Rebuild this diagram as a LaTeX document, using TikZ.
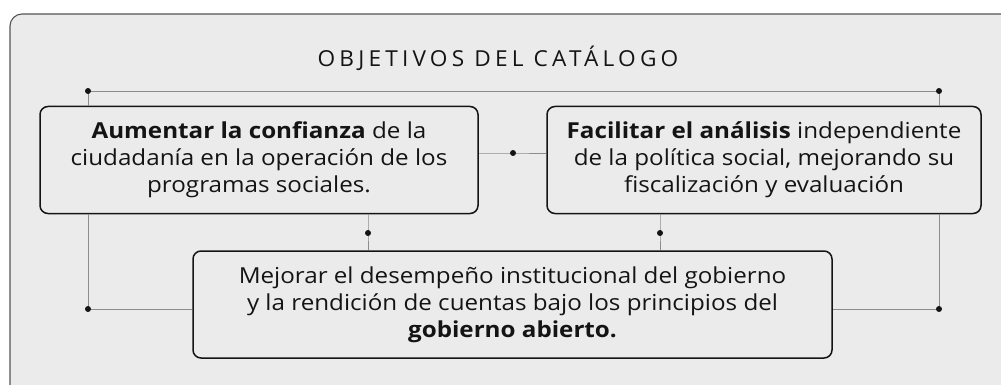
\documentclass[tikz,border=0pt]{standalone}
\usepackage{fontspec}
\setmainfont{Open Sans}[FakeStretch=1.1]
\newfontfamily\titlefont[LetterSpace=19,FakeStretch=1.03]{Open Sans}
\definecolor{bgc}{HTML}{EBEBEB}
\definecolor{framec}{HTML}{555555}
\definecolor{linec}{HTML}{8C8C8C}
\definecolor{txtc}{HTML}{141414}
\begin{document}
\begin{tikzpicture}[x=1pt,y=-1pt,
  objbox/.style={draw=txtc,line width=1.5pt,rounded corners=8pt,minimum width=#1,minimum height=107pt,align=center,inner sep=0pt,text=txtc,font=\fontsize{22}{27}\selectfont},
  conn/.style={draw=linec,line width=0.8pt},
  dotc/.style={circle,fill=txtc,inner sep=0pt,minimum size=6pt}]
\useasboundingbox (0,0) rectangle (1001,385);
% frame
\fill[bgc,rounded corners=12pt] (10,400) -- (10,14) -- (1020,14) -- (1020,400) -- cycle;
\draw[framec,line width=1.1pt,rounded corners=12pt] (10,400) -- (10,14) -- (1020,14);
% title
\node[text=txtc,font=\titlefont\fontsize{22}{24}\selectfont] (title) at (498,58) {OBJETIVOS DEL CATÁLOGO};
% boxes
\node[objbox=438pt] (b1) at (259,160) {\textbf{Aumentar la confianza} de la\\ciudadanía en la operación de los\\programas sociales.};
\node[objbox=434pt] (b2) at (764,160) {\textbf{Facilitar el análisis} independiente\\de la política social, mejorando su\\fiscalización y evaluación};
\node[objbox=639pt] (b3) at (512.5,304.5) {Mejorar el desempeño institucional del gobierno\\y la rendición de cuentas bajo los principios del\\\textbf{gobierno abierto.}};
% dot coordinates
\coordinate (tl) at (88,91);
\coordinate (tr) at (939,91);
\coordinate (mm) at (513,153);
\coordinate (ml) at (368,233);
\coordinate (mr) at (660,233);
\coordinate (bl) at (88,309);
\coordinate (br) at (939,309);
% connectors
\draw[conn] (tl) -- (tr);
\draw[conn] (tl) -- (tl |- b1.north);
\draw[conn] (tr) -- (tr |- b2.north);
\draw[conn] (b1.east |- mm) -- (mm) -- (b2.west |- mm);
\draw[conn] (ml |- b1.south) -- (ml) -- (ml |- b3.north);
\draw[conn] (mr |- b2.south) -- (mr) -- (mr |- b3.north);
\draw[conn] (bl |- b1.south) -- (bl) -- (b3.west |- bl);
\draw[conn] (br |- b2.south) -- (br) -- (b3.east |- br);
% dots
\foreach \c in {tl,tr,mm,ml,mr,bl,br} \node[dotc] at (\c) {};
\end{tikzpicture}
\end{document}
